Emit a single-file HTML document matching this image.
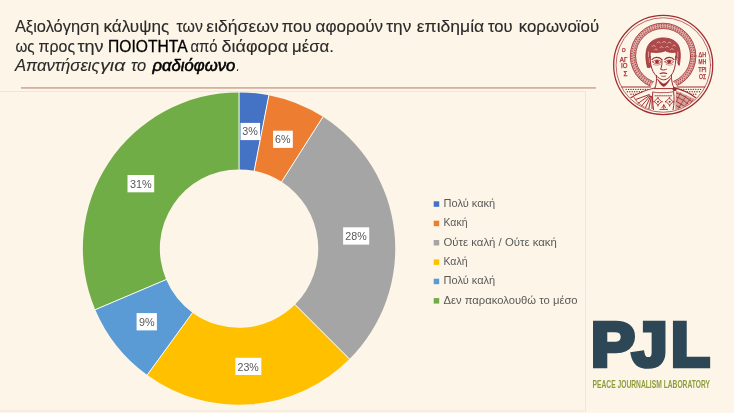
<!DOCTYPE html>
<html lang="el"><head><meta charset="utf-8"><title>Αξιολόγηση κάλυψης ειδήσεων – ραδιόφωνο</title>
<style>
html,body{margin:0;padding:0;background:#FDF6E8;}
body{width:734px;height:413px;overflow:hidden;font-family:"Liberation Sans",sans-serif;}
svg{display:block}
text{font-family:"Liberation Sans",sans-serif;}
.t{font-size:16.2px;fill:#2a2a2a;stroke:#2a2a2a;stroke-width:0.12px}
.k{fill:#000;stroke:#000;stroke-width:0.3px}
.b{stroke-width:0.55px}
.i{font-style:italic}
.l{font-size:10.8px;fill:#595959}
.d{font-size:10.6px;fill:#595959}
.pjl{font-weight:bold;font-size:63px;fill:#2E4756;stroke:#2E4756;stroke-width:4.6px;stroke-linejoin:miter}
.sub{font-weight:bold;font-size:11.5px;fill:#8E9C3C}
</style></head><body>
<svg width="734" height="413" viewBox="0 0 734 413">
<rect width="734" height="413" fill="#FDF6E8"/>
<!-- chart frame -->
<rect x="-0.5" y="91.5" width="586" height="319.5" fill="none" stroke="#EAE7DC" stroke-width="1"/>
<!-- title rule -->
<rect x="21" y="87" width="575" height="1.8" fill="#D6B0A3"/>
<g id="title">
<text class="t" y="31.8"><tspan x="14.9" textLength="84.4" lengthAdjust="spacingAndGlyphs">Αξιολόγηση</tspan> <tspan x="103.4" textLength="65.8" lengthAdjust="spacingAndGlyphs">κάλυψης</tspan> <tspan x="176.5" textLength="26.4" lengthAdjust="spacingAndGlyphs">των</tspan> <tspan x="206.3" textLength="72.5" lengthAdjust="spacingAndGlyphs">ειδήσεων</tspan> <tspan x="281.7" textLength="29.9" lengthAdjust="spacingAndGlyphs">που</tspan> <tspan x="315.6" textLength="67.5" lengthAdjust="spacingAndGlyphs">αφορούν</tspan> <tspan x="386.2" textLength="25.1" lengthAdjust="spacingAndGlyphs">την</tspan> <tspan x="416.8" textLength="67.4" lengthAdjust="spacingAndGlyphs">επιδημία</tspan> <tspan x="488" textLength="24.6" lengthAdjust="spacingAndGlyphs">του</tspan> <tspan x="518.7" textLength="80.5" lengthAdjust="spacingAndGlyphs">κορωνοϊού</tspan></text>
<text class="t" y="51.7"><tspan x="15.4" textLength="19.1" lengthAdjust="spacingAndGlyphs">ως</tspan> <tspan x="38.6" textLength="36.5" lengthAdjust="spacingAndGlyphs">προς</tspan> <tspan x="77.4" textLength="26.2" lengthAdjust="spacingAndGlyphs">την</tspan> <tspan class="k" x="108.1" textLength="78.6" lengthAdjust="spacingAndGlyphs">ΠΟΙΟΤΗΤΑ</tspan> <tspan x="190.4" textLength="27.2" lengthAdjust="spacingAndGlyphs">από</tspan> <tspan x="221.6" textLength="66.5" lengthAdjust="spacingAndGlyphs">διάφορα</tspan> <tspan x="292" textLength="42.0" lengthAdjust="spacingAndGlyphs">μέσα.</tspan></text>
<text class="t i" y="71.3"><tspan x="14.9" textLength="84.7" lengthAdjust="spacingAndGlyphs">Απαντήσεις</tspan> <tspan x="100.2" textLength="25.0" lengthAdjust="spacingAndGlyphs">για</tspan> <tspan x="131.1" textLength="15.1" lengthAdjust="spacingAndGlyphs">το</tspan> <tspan class="k b" x="152.5" textLength="82.8" lengthAdjust="spacingAndGlyphs">ραδιόφωνο</tspan><tspan x="236.4" textLength="3.0" lengthAdjust="spacingAndGlyphs">.</tspan></text>
</g>
<g id="donut">
<path d="M239.05 92.40A156.2 156.2 0 0 1 268.85 95.27L254.16 170.86A79.2 79.2 0 0 0 239.05 169.40Z" fill="#4472C4"/>
<path d="M268.85 95.27A156.2 156.2 0 0 1 322.98 116.86L281.60 181.80A79.2 79.2 0 0 0 254.16 170.86Z" fill="#ED7D31"/>
<path d="M322.98 116.86A156.2 156.2 0 0 1 349.50 359.05L295.05 304.60A79.2 79.2 0 0 0 281.60 181.80Z" fill="#A5A5A5"/>
<path d="M349.50 359.05A156.2 156.2 0 0 1 147.24 374.97L192.50 312.67A79.2 79.2 0 0 0 295.05 304.60Z" fill="#FFC000"/>
<path d="M147.24 374.97A156.2 156.2 0 0 1 95.27 309.63L166.15 279.55A79.2 79.2 0 0 0 192.50 312.67Z" fill="#5B9BD5"/>
<path d="M95.27 309.63A156.2 156.2 0 0 1 239.05 92.40L239.05 169.40A79.2 79.2 0 0 0 166.15 279.55Z" fill="#70AD47"/>
<g stroke="#fff" stroke-width="1">
<line x1="239.05" y1="91.90" x2="239.05" y2="169.90"/>
<line x1="268.95" y1="94.78" x2="254.07" y2="171.35"/>
<line x1="323.24" y1="116.44" x2="281.34" y2="182.23"/>
<line x1="349.85" y1="359.40" x2="294.70" y2="304.25"/>
<line x1="146.94" y1="375.37" x2="192.79" y2="312.27"/>
<line x1="94.81" y1="309.83" x2="166.61" y2="279.35"/>
</g>
</g>
<g id="labels">
<rect x="240.5" y="122.9" width="19.6" height="17.2" fill="#fff"/>
<text class="d" x="242.3" y="135.3" textLength="15.6" lengthAdjust="spacingAndGlyphs">3%</text>
<rect x="273.1" y="130.7" width="19.7" height="17.2" fill="#fff"/>
<text class="d" x="275.1" y="143.3" textLength="15.5" lengthAdjust="spacingAndGlyphs">6%</text>
<rect x="343.1" y="227.3" width="26.1" height="17.3" fill="#fff"/>
<text class="d" x="345.3" y="240.0" textLength="21.4" lengthAdjust="spacingAndGlyphs">28%</text>
<rect x="235.4" y="357.8" width="25.9" height="17.2" fill="#fff"/>
<text class="d" x="237.5" y="370.8" textLength="21.3" lengthAdjust="spacingAndGlyphs">23%</text>
<rect x="136.6" y="313.1" width="20.3" height="17.3" fill="#fff"/>
<text class="d" x="139.1" y="326.4" textLength="15.6" lengthAdjust="spacingAndGlyphs">9%</text>
<rect x="127.5" y="175.0" width="26.7" height="17.3" fill="#fff"/>
<text class="d" x="130.0" y="187.9" textLength="21.8" lengthAdjust="spacingAndGlyphs">31%</text>
</g>
<g id="legend">
<rect x="433.7" y="201.3" width="5.5" height="5.5" fill="#4472C4"/>
<text class="l" x="443.5" y="207.0" textLength="51.7" lengthAdjust="spacingAndGlyphs">Πολύ κακή</text>
<rect x="433.7" y="220.7" width="5.5" height="5.5" fill="#ED7D31"/>
<text class="l" x="443.5" y="226.3" textLength="24.0" lengthAdjust="spacingAndGlyphs">Κακή</text>
<rect x="433.7" y="240.0" width="5.5" height="5.5" fill="#A5A5A5"/>
<text class="l" x="443.5" y="245.7" textLength="113.4" lengthAdjust="spacingAndGlyphs">Ούτε καλή / Ούτε κακή</text>
<rect x="433.7" y="259.4" width="5.5" height="5.5" fill="#FFC000"/>
<text class="l" x="443.5" y="265.1" textLength="24.0" lengthAdjust="spacingAndGlyphs">Καλή</text>
<rect x="433.7" y="278.7" width="5.5" height="5.5" fill="#5B9BD5"/>
<text class="l" x="443.5" y="284.4" textLength="51.7" lengthAdjust="spacingAndGlyphs">Πολύ καλή</text>
<rect x="433.7" y="298.1" width="5.5" height="5.5" fill="#70AD47"/>
<text class="l" x="443.5" y="303.8" textLength="134.1" lengthAdjust="spacingAndGlyphs">Δεν παρακολουθώ το μέσο</text>
</g>
<g id="pjl">
<text class="pjl" transform="translate(591.1,366.3) scale(1.045,1)">P</text>
<text class="pjl" transform="translate(631.9,366.3) scale(1.013,1)">J</text>
<text class="pjl" transform="translate(671.1,366.3) scale(1.008,1)">L</text>
<text class="sub" x="592.6" y="388.3" textLength="117.4" lengthAdjust="spacingAndGlyphs">PEACE JOURNALISM LABORATORY</text>
</g>
<g id="seal">
<g fill="none" stroke="#A02C30" stroke-linecap="round" stroke-linejoin="round">
<circle cx="663.2" cy="65" r="49.55" stroke-width="1.25"/>
<circle cx="663.3" cy="65" r="47.25" stroke-width="0.7"/>
<clipPath id="upper"><path d="M612 12H716V87H678L672 80H655L650 87H612Z"/></clipPath>
<clipPath id="lower"><circle cx="663.4" cy="65" r="46.4"/></clipPath>
<g clip-path="url(#upper)">
<circle cx="663.1" cy="56" r="30.1" stroke-width="5.8" stroke-opacity="0.34"/>
<circle cx="663.1" cy="56" r="32.8" stroke-width="0.8"/>
<circle cx="663.1" cy="56" r="27.5" stroke-width="0.8"/>
<circle cx="663.1" cy="56" r="31.3" stroke-width="1.5" stroke-dasharray="1.1 1.4" stroke-linecap="butt" stroke-opacity="0.75"/>
<circle cx="663.1" cy="56" r="29" stroke-width="1.5" stroke-dasharray="1.2 1.2" stroke-linecap="butt" stroke-opacity="0.75"/>
</g>
<path d="M621.8 87H650.5M677 87H704.8" stroke-width="1"/>
<path d="M647.4 67C645.2 59 645 48.5 649.6 43.4C653.6 39 659 37.8 663.6 37.9C669.6 38 675.4 40.2 678.2 45C680.8 49.6 680.8 58 679.2 65.4C678 65 676.6 60 675.8 52C672 53 668 52.2 665.4 50.8C661.4 52.6 655.6 52.8 650.4 52C649.8 56 649.8 61 650.6 67C649.6 67.8 648.2 67.8 647.4 67Z" fill="#A02C30" fill-opacity="0.86" stroke-width="0.8"/>
<g stroke="#FDF6E8" stroke-width="0.7" stroke-opacity="0.75">
<path d="M652 46.5c1-1.6 2.6-1.6 3.2 0M657 43c1-1.6 2.6-1.6 3.2 0M662.4 42.6c1-1.6 2.6-1.6 3.2 0M667.8 43.2c1-1.6 2.6-1.6 3.2 0M672.6 46c1-1.4 2.2-1.4 2.8 0M654.4 50c1-1.4 2.4-1.4 3 0M660 47.6c1-1.4 2.4-1.4 3 0M665.6 47.4c1-1.4 2.4-1.4 3 0M670.4 49.6c1-1.4 2.4-1.4 3 0M648.6 52v5M677.8 52v5M649.4 58.4v4M677.4 58.4v4"/>
</g>
<path d="M650.2 56C650 62 651 67.4 653 71.4C655.4 75.8 659.8 79.7 663.6 79.8C667.2 79.8 671 76.4 673 72.4C675.2 68 676 62 675.6 56" stroke-width="1"/>
<path d="M652 59.6C654 56.8 659 56.6 661.6 59.4" stroke-width="1.2"/>
<path d="M664.8 59.4C667.2 56.6 672 56.8 674 59.6" stroke-width="1.2"/>
<path d="M652.6 61.8C655 59.4 659 59.4 661.2 61.8C659 64.2 655 64.4 652.6 61.8Z" stroke-width="0.8"/>
<path d="M665 61.8C667.2 59.4 671.2 59.4 673.6 61.8C671.2 64.4 667.2 64.2 665 61.8Z" stroke-width="0.8"/>
<ellipse cx="657" cy="61.6" rx="2" ry="1.7" fill="#A02C30" stroke="none"/><ellipse cx="669.2" cy="61.6" rx="2" ry="1.7" fill="#A02C30" stroke="none"/>
<path d="M653.4 64.6C655.6 65.4 658.6 65.4 660.4 64.4M666 64.4C667.8 65.4 670.8 65.4 672.8 64.6" stroke-width="0.5"/>
<path d="M661.9 59.4C662.1 63 662 66.4 660.6 69.3C662 70.2 665 70.2 666.4 69.3" stroke-width="1"/>
<path d="M660.2 73.5C662 72.9 665 72.9 666.6 73.5" stroke-width="1.3"/>
<path d="M661.6 76.1C663 76.5 664.6 76.5 665.6 76.1" stroke-width="0.8"/>
<path d="M656.4 75.4C656.8 80 656.4 84 655 88M671.4 75C671.4 80 672 84 674 88" stroke-width="1"/>
<path d="M657.6 79.4C659.6 81 662 83.6 663.8 84C666 83.4 668.4 80.6 670.8 78.2C668.6 81.6 666 86 663.8 86.4C661.6 86 659.2 82.4 657.6 79.4Z" fill="#A02C30" stroke-width="0.6"/>
<g clip-path="url(#lower)">
<path d="M655 88C648 89.4 638 93 630.4 98M674 87.6C682 89.6 690 93 696.4 98.2" stroke-width="1.1"/>
<path d="M654.6 88.6H674.2" stroke-width="1"/>
<path d="M652.8 92C656 93 670 93 673.6 91.6" stroke-width="0.8"/>
<path d="M652.7 92.5C652.4 98 652.6 104 653.6 109.6M673.6 92C674.4 98 674.2 104 673 110" stroke-width="1"/>
<path d="M655 95.8H672" stroke-width="0.9" stroke-dasharray="1.2 1"/>
<circle cx="674.6" cy="89.2" r="2" fill="#A02C30" stroke="none"/>
<g stroke="none" fill="#A02C30"><circle cx="626.2" cy="89.4" r=".72"/><circle cx="628.6" cy="89.4" r=".72"/><circle cx="631.0" cy="89.4" r=".72"/><circle cx="633.4" cy="89.4" r=".72"/><circle cx="635.8" cy="89.4" r=".72"/><circle cx="638.2" cy="89.4" r=".72"/><circle cx="640.6" cy="89.4" r=".72"/><circle cx="643.0" cy="89.4" r=".72"/><circle cx="645.4" cy="89.4" r=".72"/><circle cx="647.8" cy="89.4" r=".72"/><circle cx="700.6" cy="89.4" r=".72"/><circle cx="698.2" cy="89.4" r=".72"/><circle cx="695.8" cy="89.4" r=".72"/><circle cx="693.4" cy="89.4" r=".72"/><circle cx="691.0" cy="89.4" r=".72"/><circle cx="688.6" cy="89.4" r=".72"/><circle cx="686.2" cy="89.4" r=".72"/><circle cx="683.8" cy="89.4" r=".72"/><circle cx="681.4" cy="89.4" r=".72"/><circle cx="627.4" cy="91.8" r=".72"/><circle cx="629.8" cy="91.8" r=".72"/><circle cx="632.2" cy="91.8" r=".72"/><circle cx="634.6" cy="91.8" r=".72"/><circle cx="637.0" cy="91.8" r=".72"/><circle cx="639.4" cy="91.8" r=".72"/><circle cx="641.8" cy="91.8" r=".72"/><circle cx="699.4" cy="91.8" r=".72"/><circle cx="697.0" cy="91.8" r=".72"/><circle cx="694.6" cy="91.8" r=".72"/><circle cx="692.2" cy="91.8" r=".72"/><circle cx="689.8" cy="91.8" r=".72"/><circle cx="687.4" cy="91.8" r=".72"/><circle cx="631.0" cy="94.2" r=".72"/><circle cx="633.4" cy="94.2" r=".72"/><circle cx="635.8" cy="94.2" r=".72"/><circle cx="695.8" cy="94.2" r=".72"/><circle cx="693.4" cy="94.2" r=".72"/><circle cx="691.0" cy="94.2" r=".72"/></g>
<path d="M649.2 94.6L636.0 99.4M649.5 95.3L637.3 103.9M650.1 95.9L640.4 107.4M650.7 96.3L644.8 109.0M651.4 96.5L648.7 109.3M652.0 96.6L652.0 108.6" stroke-width="1"/>
<path d="M634 97.4C637 103 643 107.6 650.6 109.6" stroke-width="0.8"/>
<path d="M631.6 99.6C635 105 642 110 650 112" stroke-width="0.8"/>
<path d="M658 98.2L661.4 101.7L658 105.2L654.6 101.7Z" stroke-width="0.9"/>
<circle cx="658" cy="101.7" r="1" fill="#A02C30" stroke="none"/>
<g fill="#A02C30" stroke="none"><circle cx="658" cy="97.6" r=".7"/><circle cx="658" cy="105.8" r=".7"/><circle cx="654" cy="101.7" r=".7"/><circle cx="662" cy="101.7" r=".7"/></g>
<path d="M669.6 98.2L673.0 101.7L669.6 105.2L666.2 101.7Z" stroke-width="0.9"/>
<circle cx="669.6" cy="101.7" r="1" fill="#A02C30" stroke="none"/>
<g fill="#A02C30" stroke="none"><circle cx="669.6" cy="97.6" r=".7"/><circle cx="669.6" cy="105.8" r=".7"/><circle cx="665.6" cy="101.7" r=".7"/><circle cx="673.6" cy="101.7" r=".7"/></g>
<path d="M663.8 104.4V109.2M660 109.4H667.6M662 107.6L663.8 105L665.6 107.6" stroke-width="0.9"/>
<path d="M676 90.6L695.6 99.2L689 105.4L682 109.4L675 111Z" fill="#A02C30" fill-opacity="0.42" stroke="none"/>
<path d="M676.4 93C682 94.6 688 98 692 102M676.4 97C681 98.6 686 101.6 689 105M676.4 101.4L686 107.2M676.4 105.6L682 109" stroke-width="0.9"/>
<path d="M678 109L686 96M682.4 109.4L690.6 98.4M676.6 101L680.6 93M686.6 107L693 100" stroke-width="0.7"/>
</g>
</g>
<g font-family="'Liberation Serif',serif" fill="#A02C30" stroke="#A02C30" stroke-width="0.25" font-size="6.4px" text-anchor="middle">
<text x="623.6" y="51.8" font-size="5px">Ο</text>
<text x="623.6" y="62" textLength="7.6" lengthAdjust="spacingAndGlyphs">ΑΓ</text>
<text x="624.2" y="68.4" textLength="6.4" lengthAdjust="spacingAndGlyphs">ΙΟ</text>
<text x="625.4" y="75.8">Σ</text>
<text x="702.4" y="57" textLength="7.6" lengthAdjust="spacingAndGlyphs">ΔΗ</text>
<text x="702.4" y="64.2" textLength="7.6" lengthAdjust="spacingAndGlyphs">ΜΗ</text>
<text x="702.4" y="71.6" textLength="8.4" lengthAdjust="spacingAndGlyphs">ΤΡΙ</text>
<text x="702.6" y="78.6" textLength="7" lengthAdjust="spacingAndGlyphs">ΟΣ</text>
</g>
</g>
</svg>
</body></html>
